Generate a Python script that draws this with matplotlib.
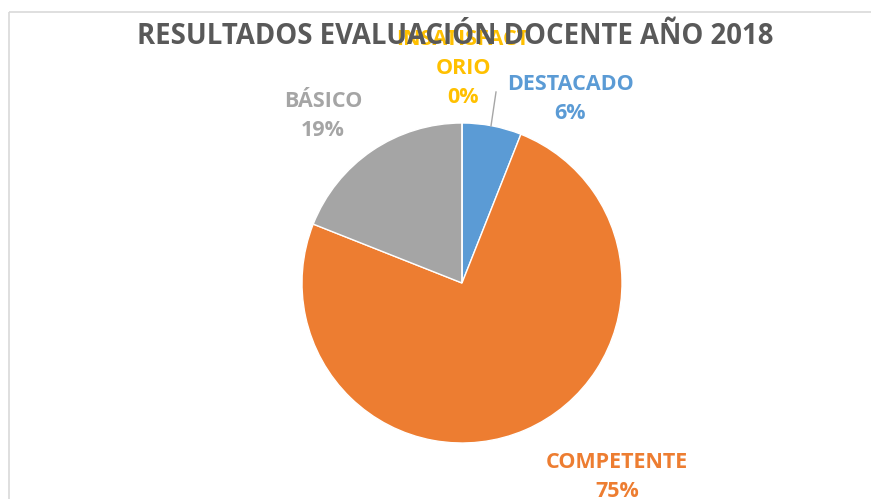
import matplotlib
import matplotlib.pyplot as plt
from matplotlib.patches import Rectangle

matplotlib.rcParams['font.family'] = ['Open Sans', 'DejaVu Sans']
matplotlib.rcParams['font.weight'] = 'bold'

categories = ['DESTACADO', 'COMPETENTE', 'BÁSICO', 'INSATISFACTORIO']
values = [6, 75, 19, 0]
label_lines = ['DESTACADO', 'COMPETENTE', 'BÁSICO', 'INSATISFACT\nORIO']
colors = ['#5B9BD5', '#ED7D31', '#A5A5A5', '#FFC000']
title = 'RESULTADOS EVALUACIÓN DOCENTE AÑO 2018'

# label centres in pixel coords
label_pos = [(570, 99), (617, 477), (323, 116), (463, 68)]

fig = plt.figure(figsize=(8.71, 4.99), dpi=100)
ax = fig.add_axes([0, 0, 1, 1])

# y axis is inverted below, so -90 / counterclock draws clockwise from the top
ax.pie(values, colors=colors, startangle=-90, counterclock=True,
       center=(462, 283), radius=160,
       wedgeprops={'linewidth': 1, 'edgecolor': 'white'})

total = sum(values)
for lab, v, c, (x, y) in zip(label_lines, values, colors, label_pos):
    ax.text(x, y, lab + '\n' + '{:.0f}%'.format(100 * v / total), color=c,
            fontsize=15.5, fontweight='bold', ha='center', va='center',
            linespacing=1.5, zorder=1)

# leader line for the 0% slice
ax.plot([496, 491], [92, 126], color='#A6A6A6', lw=1)

ax.text(455, 36, title, color='#595959', fontsize=19.8, fontweight='bold',
        ha='center', va='center', zorder=2)

ax.add_patch(Rectangle((8.5, 12), 900, 600, fill=False, edgecolor='#D9D9D9', lw=1.2))

ax.set_xlim(0, 871)
ax.set_ylim(499, 0)
ax.set_aspect('equal')
ax.axis('off')

fig.savefig('out.png', dpi=100)
